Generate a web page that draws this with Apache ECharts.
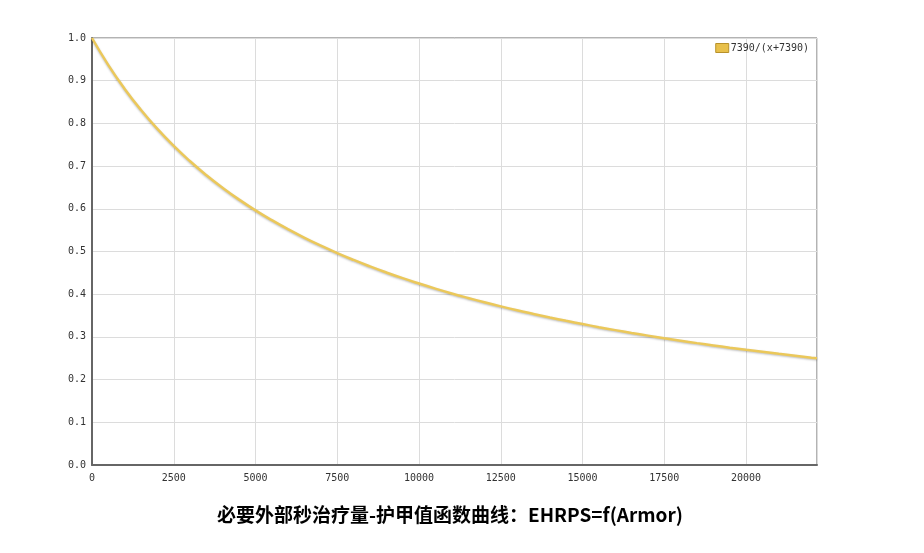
<!DOCTYPE html>
<html>
<head>
<meta charset="utf-8">
<script src="https://cdn.jsdelivr.net/npm/echarts@6/dist/echarts.min.js"></script>
<style>html,body{margin:0;padding:0;background:#fff}#c{width:924px;height:553px}</style>
</head>
<body>
<div id="c"></div>
<script>
var seriesName = '7390/(x+7390)';
var titleText = '必要外部秒治疗量-护甲值函数曲线：EHRPS=f(Armor)';
var armor = [0,500,1000,1500,2000,2500,3000,3500,4000,4500,5000,5500,6000,6500,7000,7500,8000,8500,9000,9500,10000,10500,11000,11500,12000,12500,13000,13500,14000,14500,15000,15500,16000,16500,17000,17500,18000,18500,19000,19500,20000,20500,21000,21500,22000,22170];
var ratio = [1.0,0.9366,0.8808,0.8313,0.7870,0.7472,0.7113,0.6786,0.6488,0.6215,0.5964,0.5733,0.5519,0.5320,0.5136,0.4963,0.4802,0.4651,0.4509,0.4375,0.4250,0.4131,0.4018,0.3912,0.3811,0.3715,0.3624,0.3538,0.3455,0.3376,0.3301,0.3228,0.3159,0.3093,0.3030,0.2969,0.2911,0.2854,0.2800,0.2748,0.2698,0.2650,0.2603,0.2558,0.2514,0.25];

var pts = armor.map(function(x,i){return [x, ratio[i]];});
var chart = echarts.init(document.getElementById('c'), null, {renderer:'canvas'});
var labelFont = {color:'#333', fontSize:10, fontFamily:'"DejaVu Sans Mono", monospace'};
chart.setOption({
  animation:false,
  title:{text:titleText, left:212, top:500, textStyle:{fontSize:19, fontWeight:'bold', color:'#000', fontFamily:'"Noto Sans CJK SC", sans-serif'}},
  legend:{data:[{name:seriesName, icon:'rect'}], right:110, top:38, itemWidth:13, itemHeight:9, itemGap:4,
    itemStyle:{borderColor:'#b8912a', borderWidth:1},
    textStyle:{fontSize:10, color:'#333', fontFamily:'"DejaVu Sans Mono", monospace', padding:[0,0,0,-3]}},
  grid:{left:92, right:107, top:38, bottom:88, show:true, borderColor:'#666', borderWidth:1, backgroundColor:'transparent'},
  xAxis:{type:'value', min:0, max:22170, interval:2500,
    axisLine:{show:true, onZero:false, lineStyle:{color:'#666', width:2}},
    axisTick:{show:false},
    splitLine:{show:true, lineStyle:{color:'#dcdcdc', width:1}},
    axisLabel:Object.assign({margin:8, showMaxLabel:false, formatter:function(v){return String(v);}}, labelFont)},
  yAxis:{type:'value', min:0, max:1, interval:0.1,
    axisLine:{show:true, lineStyle:{color:'#666', width:2}},
    axisTick:{show:false},
    splitLine:{show:true, lineStyle:{color:'#dcdcdc', width:1}},
    axisLabel:Object.assign({margin:6, formatter:function(v){return v.toFixed(1);}}, labelFont)},
  series:[{name:seriesName, type:'line', data:pts, smooth:true, showSymbol:false,
    itemStyle:{color:'#e8c04a', borderColor:'#b8912a'},
    lineStyle:{color:'#ebc85a', width:2.5, shadowColor:'rgba(0,0,0,0.25)', shadowBlur:2, shadowOffsetY:1}}]
});
</script>
</body>
</html>
